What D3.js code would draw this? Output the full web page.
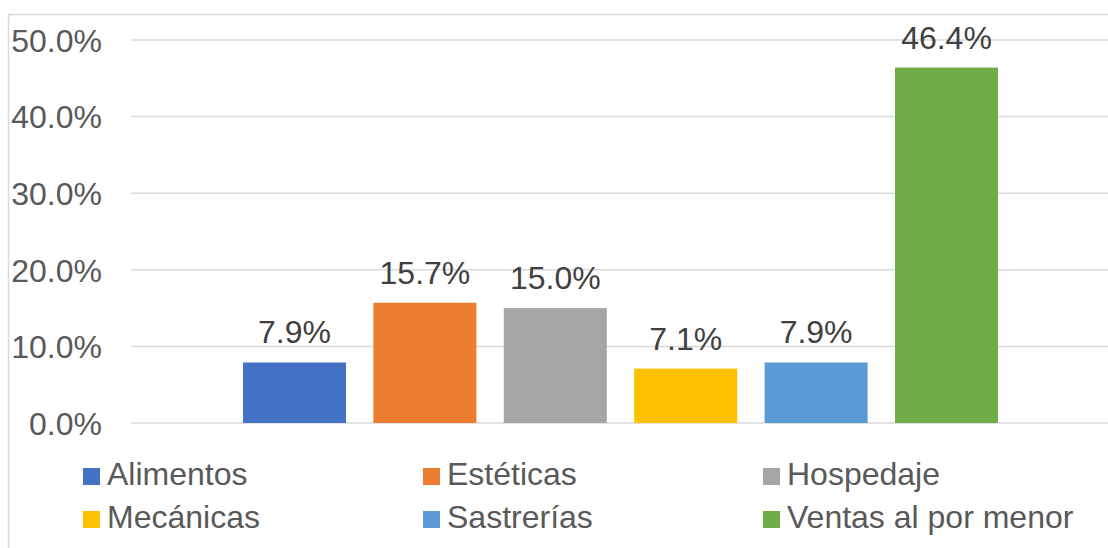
<!DOCTYPE html>
<html>
<head>
<meta charset="utf-8">
<script src="https://cdn.jsdelivr.net/npm/d3@7"></script>
<style>
  body { margin: 0; background: #fff; }
  svg { display: block; font-family: "Liberation Sans", Arial, sans-serif; }
</style>
</head>
<body>
<div id="chart-area"></div>
<script>
var categories = ["Alimentos", "Estéticas", "Hospedaje", "Mecánicas", "Sastrerías", "Ventas al por menor"];
var values = [0.079, 0.157, 0.150, 0.071, 0.079, 0.464];
var colors = ["#4472c4", "#ed7d31", "#a5a5a5", "#ffc000", "#5b9bd5", "#70ad47"];
var yTicks = [0, 0.1, 0.2, 0.3, 0.4, 0.5];

var width = 1108, height = 548;

var svg = d3.select("#chart-area")
    .append("svg")
    .attr("width", width)
    .attr("height", height);

// chart border (runs off the right/bottom edge like the source)
svg.append("rect")
    .attr("x", 8.5)
    .attr("y", 14.5)
    .attr("width", 1130)
    .attr("height", 560)
    .attr("fill", "none")
    .attr("stroke", "#d9d9d9")
    .attr("stroke-width", 1.5);

var x = d3.scaleBand()
    .domain(categories)
    .range([229.3, 1011.7])
    .paddingInner(0.21)
    .paddingOuter(0.105);

var y = d3.scaleLinear()
    .domain([0, 0.5])
    .range([423, 40]);

var gridLeft = 131, gridRight = 1120;

// gridlines
svg.append("g")
    .attr("class", "grid")
    .selectAll("line")
    .data(yTicks)
    .enter()
    .append("line")
        .attr("x1", gridLeft)
        .attr("x2", gridRight)
        .attr("y1", function(d){ return y(d); })
        .attr("y2", function(d){ return y(d); })
        .attr("stroke", "#d9d9d9")
        .attr("stroke-width", 1.5);

// y axis labels
var yAxisCall = d3.axisLeft(y)
    .tickValues(yTicks)
    .tickSize(0)
    .tickPadding(0)
    .tickFormat(d3.format(".1%"));

var yAxis = svg.append("g")
    .attr("class", "y axis")
    .attr("transform", "translate(102, 0)")
    .call(yAxisCall);
yAxis.select(".domain").remove();
yAxis.selectAll("text")
    .attr("fill", "#595959")
    .attr("dy", "0.35em")
    .style("font-size", "32px");

// bars
svg.selectAll("rect.bar")
    .data(values)
    .enter()
    .append("rect")
        .attr("class", "bar")
        .attr("x", function(d, i){ return x(categories[i]); })
        .attr("y", function(d){ return y(d); })
        .attr("width", x.bandwidth())
        .attr("height", function(d){ return y(0) - y(d); })
        .attr("fill", function(d, i){ return colors[i]; });

// data labels
svg.selectAll("text.label")
    .data(values)
    .enter()
    .append("text")
        .attr("class", "label")
        .attr("x", function(d, i){ return x(categories[i]) + x.bandwidth() / 2; })
        .attr("y", function(d){ return y(d) - 19; })
        .attr("text-anchor", "middle")
        .attr("fill", "#404040")
        .style("font-size", "32px")
        .text(function(d){ return d3.format(".1%")(d); });

// legend: 3 columns, 2 rows
var legend = svg.append("g").attr("class", "legend");
var items = legend.selectAll("g")
    .data(categories)
    .enter()
    .append("g")
        .attr("transform", function(d, i){
            return "translate(" + (83 + (i % 3) * 340) + ", " + (468 + Math.floor(i / 3) * 43) + ")";
        });

items.append("rect")
    .attr("width", 17)
    .attr("height", 17)
    .attr("fill", function(d, i){ return colors[i]; });

items.append("text")
    .attr("x", 24)
    .attr("y", 17)
    .attr("fill", "#595959")
    .style("font-size", "32px")
    .text(function(d){ return d; });
</script>
</body>
</html>
